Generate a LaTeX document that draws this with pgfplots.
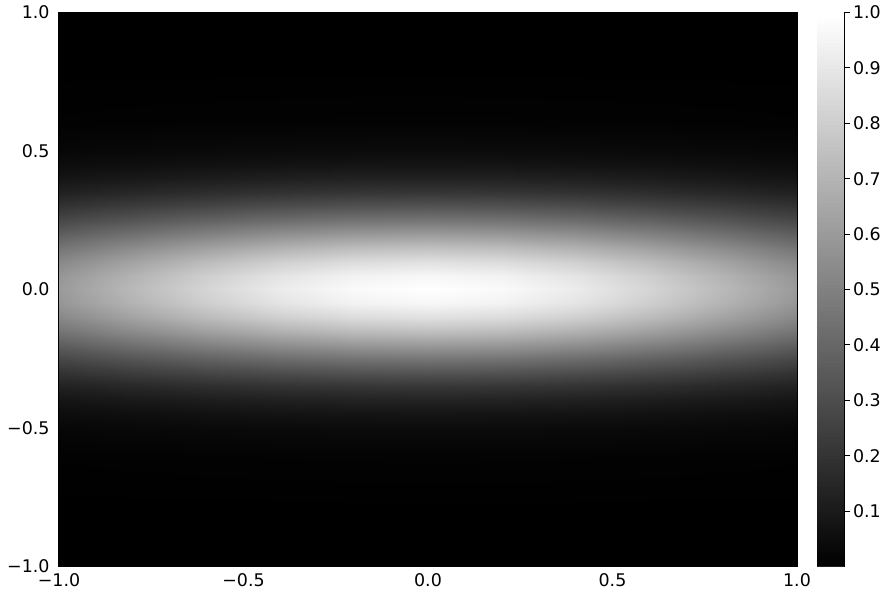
\documentclass[border=0pt]{standalone}
\usepackage{fontspec}
\setmainfont{DejaVu Sans}
\usepackage{pgfplots}
\pgfplotsset{compat=1.18}

\begin{document}
\begin{tikzpicture}
\begin{axis}[
    name=main,
    width=738bp, height=554bp,
    scale only axis,
    view={0}{90},
    xmin=-1, xmax=1, ymin=-1, ymax=1,
    enlargelimits=false,
    axis on top,
    axis line style={line width=1bp},
    xtick={-1,-0.5,0,0.5,1},
    ytick={-1,-0.5,0,0.5,1},
    xticklabels={−1.0,−0.5,0.0,0.5,1.0},
    yticklabels={−1.0,−0.5,0.0,0.5,1.0},
    major tick length=0pt,
    tick label style={font=\fontsize{17.5}{21}\selectfont},
    xticklabel style={yshift=-4bp},
    yticklabel style={xshift=-6bp},
    colormap={mplgray}{gray(0cm)=(0); gray(1cm)=(1)},
    point meta min=0, point meta max=1,
    colorbar sampled,
    colorbar style={
        at={(parent axis.north east)}, anchor=north west, xshift=11.5bp,
        width=27.5bp,
        samples=150,
        axis x line=none,
        axis y line*=right,
        ytick={0.1,0.2,0.3,0.4,0.5,0.6,0.7,0.8,0.9,1.0},
        yticklabels={0.1,0.2,0.3,0.4,0.5,0.6,0.7,0.8,0.9,1.0},
        ytick pos=right,
        major tick length=5bp,
        tick align=outside,
        tick style={black, line width=1bp},
        axis line style={line width=1bp},
        yticklabel style={font=\fontsize{17.5}{21}\selectfont},
    },
]
\addplot3[surf, shader=interp, mesh/rows=27, mesh/cols=11]
table[row sep=\\] {
x y z \\
-1 -1 0 \\ -0.8 -1 0 \\ -0.6 -1 0 \\ -0.4 -1 0 \\ -0.2 -1 0 \\ 0 -1 0 \\ 0.2 -1 0 \\ 0.4 -1 0 \\ 0.6 -1 0 \\ 0.8 -1 0 \\ 1 -1 0 \\
-1 -0.8 0.0002 \\ -0.8 -0.8 0.0002 \\ -0.6 -0.8 0.0003 \\ -0.4 -0.8 0.0003 \\ -0.2 -0.8 0.0003 \\ 0 -0.8 0.0003 \\ 0.2 -0.8 0.0003 \\ 0.4 -0.8 0.0003 \\ 0.6 -0.8 0.0003 \\ 0.8 -0.8 0.0002 \\ 1 -0.8 0.0002 \\
-1 -0.6 0.0067 \\ -0.8 -0.6 0.0081 \\ -0.6 -0.6 0.0093 \\ -0.4 -0.6 0.0102 \\ -0.2 -0.6 0.0109 \\ 0 -0.6 0.0111 \\ 0.2 -0.6 0.0109 \\ 0.4 -0.6 0.0102 \\ 0.6 -0.6 0.0093 \\ 0.8 -0.6 0.0081 \\ 1 -0.6 0.0067 \\
-1 -0.5 0.0266 \\ -0.8 -0.5 0.0319 \\ -0.6 -0.5 0.0367 \\ -0.4 -0.5 0.0405 \\ -0.2 -0.5 0.0430 \\ 0 -0.5 0.0439 \\ 0.2 -0.5 0.0430 \\ 0.4 -0.5 0.0405 \\ 0.6 -0.5 0.0367 \\ 0.8 -0.5 0.0319 \\ 1 -0.5 0.0266 \\
-1 -0.45 0.0483 \\ -0.8 -0.45 0.0578 \\ -0.6 -0.45 0.0665 \\ -0.4 -0.45 0.0735 \\ -0.2 -0.45 0.0780 \\ 0 -0.45 0.0796 \\ 0.2 -0.45 0.0780 \\ 0.4 -0.45 0.0735 \\ 0.6 -0.45 0.0665 \\ 0.8 -0.45 0.0578 \\ 1 -0.45 0.0483 \\
-1 -0.4 0.0821 \\ -0.8 -0.4 0.0982 \\ -0.6 -0.4 0.1130 \\ -0.4 -0.4 0.1249 \\ -0.2 -0.4 0.1326 \\ 0 -0.4 0.1353 \\ 0.2 -0.4 0.1326 \\ 0.4 -0.4 0.1249 \\ 0.6 -0.4 0.1130 \\ 0.8 -0.4 0.0982 \\ 1 -0.4 0.0821 \\
-1 -0.35 0.1312 \\ -0.8 -0.35 0.1571 \\ -0.6 -0.35 0.1807 \\ -0.4 -0.35 0.1997 \\ -0.2 -0.35 0.2120 \\ 0 -0.35 0.2163 \\ 0.2 -0.35 0.2120 \\ 0.4 -0.35 0.1997 \\ 0.6 -0.35 0.1807 \\ 0.8 -0.35 0.1571 \\ 1 -0.35 0.1312 \\
-1 -0.3 0.1969 \\ -0.8 -0.3 0.2358 \\ -0.6 -0.3 0.2712 \\ -0.4 -0.3 0.2997 \\ -0.2 -0.3 0.3183 \\ 0 -0.3 0.3247 \\ 0.2 -0.3 0.3183 \\ 0.4 -0.3 0.2997 \\ 0.6 -0.3 0.2712 \\ 0.8 -0.3 0.2358 \\ 1 -0.3 0.1969 \\
-1 -0.25 0.2777 \\ -0.8 -0.25 0.3324 \\ -0.6 -0.25 0.3824 \\ -0.4 -0.25 0.4226 \\ -0.2 -0.25 0.4487 \\ 0 -0.25 0.4578 \\ 0.2 -0.25 0.4487 \\ 0.4 -0.25 0.4226 \\ 0.6 -0.25 0.3824 \\ 0.8 -0.25 0.3324 \\ 1 -0.25 0.2777 \\
-1 -0.2 0.3679 \\ -0.8 -0.2 0.4404 \\ -0.6 -0.2 0.5066 \\ -0.4 -0.2 0.5599 \\ -0.2 -0.2 0.5945 \\ 0 -0.2 0.6065 \\ 0.2 -0.2 0.5945 \\ 0.4 -0.2 0.5599 \\ 0.6 -0.2 0.5066 \\ 0.8 -0.2 0.4404 \\ 1 -0.2 0.3679 \\
-1 -0.15 0.4578 \\ -0.8 -0.15 0.5481 \\ -0.6 -0.15 0.6305 \\ -0.4 -0.15 0.6967 \\ -0.2 -0.15 0.7399 \\ 0 -0.15 0.7548 \\ 0.2 -0.15 0.7399 \\ 0.4 -0.15 0.6967 \\ 0.6 -0.15 0.6305 \\ 0.8 -0.15 0.5481 \\ 1 -0.15 0.4578 \\
-1 -0.1 0.5352 \\ -0.8 -0.1 0.6408 \\ -0.6 -0.1 0.7372 \\ -0.4 -0.1 0.8146 \\ -0.2 -0.1 0.8650 \\ 0 -0.1 0.8825 \\ 0.2 -0.1 0.8650 \\ 0.4 -0.1 0.8146 \\ 0.6 -0.1 0.7372 \\ 0.8 -0.1 0.6408 \\ 1 -0.1 0.5352 \\
-1 -0.05 0.5878 \\ -0.8 -0.05 0.7037 \\ -0.6 -0.05 0.8096 \\ -0.4 -0.05 0.8947 \\ -0.2 -0.05 0.9500 \\ 0 -0.05 0.9692 \\ 0.2 -0.05 0.9500 \\ 0.4 -0.05 0.8947 \\ 0.6 -0.05 0.8096 \\ 0.8 -0.05 0.7037 \\ 1 -0.05 0.5878 \\
-1 0 0.6065 \\ -0.8 0 0.7261 \\ -0.6 0 0.8353 \\ -0.4 0 0.9231 \\ -0.2 0 0.9802 \\ 0 0 1.0000 \\ 0.2 0 0.9802 \\ 0.4 0 0.9231 \\ 0.6 0 0.8353 \\ 0.8 0 0.7261 \\ 1 0 0.6065 \\
-1 0.05 0.5878 \\ -0.8 0.05 0.7037 \\ -0.6 0.05 0.8096 \\ -0.4 0.05 0.8947 \\ -0.2 0.05 0.9500 \\ 0 0.05 0.9692 \\ 0.2 0.05 0.9500 \\ 0.4 0.05 0.8947 \\ 0.6 0.05 0.8096 \\ 0.8 0.05 0.7037 \\ 1 0.05 0.5878 \\
-1 0.1 0.5352 \\ -0.8 0.1 0.6408 \\ -0.6 0.1 0.7372 \\ -0.4 0.1 0.8146 \\ -0.2 0.1 0.8650 \\ 0 0.1 0.8825 \\ 0.2 0.1 0.8650 \\ 0.4 0.1 0.8146 \\ 0.6 0.1 0.7372 \\ 0.8 0.1 0.6408 \\ 1 0.1 0.5352 \\
-1 0.15 0.4578 \\ -0.8 0.15 0.5481 \\ -0.6 0.15 0.6305 \\ -0.4 0.15 0.6967 \\ -0.2 0.15 0.7399 \\ 0 0.15 0.7548 \\ 0.2 0.15 0.7399 \\ 0.4 0.15 0.6967 \\ 0.6 0.15 0.6305 \\ 0.8 0.15 0.5481 \\ 1 0.15 0.4578 \\
-1 0.2 0.3679 \\ -0.8 0.2 0.4404 \\ -0.6 0.2 0.5066 \\ -0.4 0.2 0.5599 \\ -0.2 0.2 0.5945 \\ 0 0.2 0.6065 \\ 0.2 0.2 0.5945 \\ 0.4 0.2 0.5599 \\ 0.6 0.2 0.5066 \\ 0.8 0.2 0.4404 \\ 1 0.2 0.3679 \\
-1 0.25 0.2777 \\ -0.8 0.25 0.3324 \\ -0.6 0.25 0.3824 \\ -0.4 0.25 0.4226 \\ -0.2 0.25 0.4487 \\ 0 0.25 0.4578 \\ 0.2 0.25 0.4487 \\ 0.4 0.25 0.4226 \\ 0.6 0.25 0.3824 \\ 0.8 0.25 0.3324 \\ 1 0.25 0.2777 \\
-1 0.3 0.1969 \\ -0.8 0.3 0.2358 \\ -0.6 0.3 0.2712 \\ -0.4 0.3 0.2997 \\ -0.2 0.3 0.3183 \\ 0 0.3 0.3247 \\ 0.2 0.3 0.3183 \\ 0.4 0.3 0.2997 \\ 0.6 0.3 0.2712 \\ 0.8 0.3 0.2358 \\ 1 0.3 0.1969 \\
-1 0.35 0.1312 \\ -0.8 0.35 0.1571 \\ -0.6 0.35 0.1807 \\ -0.4 0.35 0.1997 \\ -0.2 0.35 0.2120 \\ 0 0.35 0.2163 \\ 0.2 0.35 0.2120 \\ 0.4 0.35 0.1997 \\ 0.6 0.35 0.1807 \\ 0.8 0.35 0.1571 \\ 1 0.35 0.1312 \\
-1 0.4 0.0821 \\ -0.8 0.4 0.0982 \\ -0.6 0.4 0.1130 \\ -0.4 0.4 0.1249 \\ -0.2 0.4 0.1326 \\ 0 0.4 0.1353 \\ 0.2 0.4 0.1326 \\ 0.4 0.4 0.1249 \\ 0.6 0.4 0.1130 \\ 0.8 0.4 0.0982 \\ 1 0.4 0.0821 \\
-1 0.45 0.0483 \\ -0.8 0.45 0.0578 \\ -0.6 0.45 0.0665 \\ -0.4 0.45 0.0735 \\ -0.2 0.45 0.0780 \\ 0 0.45 0.0796 \\ 0.2 0.45 0.0780 \\ 0.4 0.45 0.0735 \\ 0.6 0.45 0.0665 \\ 0.8 0.45 0.0578 \\ 1 0.45 0.0483 \\
-1 0.5 0.0266 \\ -0.8 0.5 0.0319 \\ -0.6 0.5 0.0367 \\ -0.4 0.5 0.0405 \\ -0.2 0.5 0.0430 \\ 0 0.5 0.0439 \\ 0.2 0.5 0.0430 \\ 0.4 0.5 0.0405 \\ 0.6 0.5 0.0367 \\ 0.8 0.5 0.0319 \\ 1 0.5 0.0266 \\
-1 0.6 0.0067 \\ -0.8 0.6 0.0081 \\ -0.6 0.6 0.0093 \\ -0.4 0.6 0.0102 \\ -0.2 0.6 0.0109 \\ 0 0.6 0.0111 \\ 0.2 0.6 0.0109 \\ 0.4 0.6 0.0102 \\ 0.6 0.6 0.0093 \\ 0.8 0.6 0.0081 \\ 1 0.6 0.0067 \\
-1 0.8 0.0002 \\ -0.8 0.8 0.0002 \\ -0.6 0.8 0.0003 \\ -0.4 0.8 0.0003 \\ -0.2 0.8 0.0003 \\ 0 0.8 0.0003 \\ 0.2 0.8 0.0003 \\ 0.4 0.8 0.0003 \\ 0.6 0.8 0.0003 \\ 0.8 0.8 0.0002 \\ 1 0.8 0.0002 \\
-1 1 0 \\ -0.8 1 0 \\ -0.6 1 0 \\ -0.4 1 0 \\ -0.2 1 0 \\ 0 1 0 \\ 0.2 1 0 \\ 0.4 1 0 \\ 0.6 1 0 \\ 0.8 1 0 \\ 1 1 0 \\
};
\end{axis}
\pgfresetboundingbox
\useasboundingbox (main.south west) ++(-59bp,-29.5bp) rectangle ++(890bp,596bp);
\end{tikzpicture}
\end{document}
